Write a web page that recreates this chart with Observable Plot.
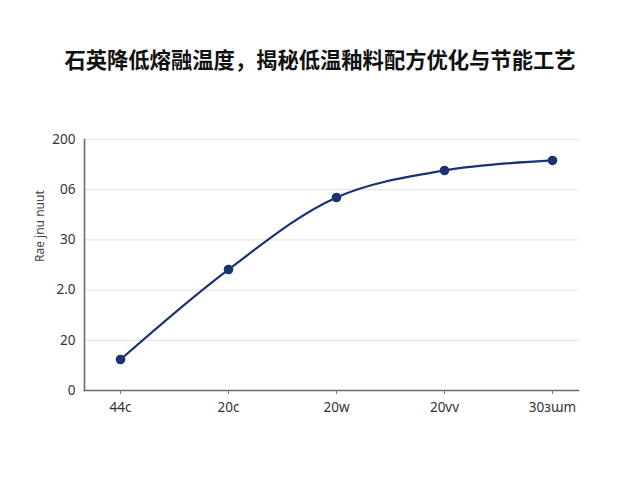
<!DOCTYPE html>
<html>
<head>
<meta charset="utf-8">
<script src="https://cdn.jsdelivr.net/npm/d3@7"></script>
<script src="https://cdn.jsdelivr.net/npm/@observablehq/plot@0.6"></script>
<style>
  body { margin: 0; background: #fff; width: 640px; height: 480px; overflow: hidden; font-family: "Noto Sans", "DejaVu Sans", sans-serif; }
  #title { position: absolute; left: 0; top: 43px; width: 640px; text-align: center; font-family: "Noto Sans CJK SC", sans-serif; font-weight: 700; font-size: 21.3px; color: #111; }
  #chart { position: absolute; left: 0; top: 120px; }
</style>
</head>
<body>
<div id="title">石英降低熔融温度，揭秘低温釉料配方优化与节能工艺</div>
<div id="chart"></div>
<script>
const categories = ["44c", "20c", "20w", "20vv", "30\u025C\u026Fm"];
const values = [24.7, 96.4, 153.8, 175.3, 183.3];
const yTicks = [0, 40, 80, 120, 160, 200];
const yTickLabels = ["0", "20", "2.0", "30", "06", "200"];
const yLabel = "Rae jnu nuut";

const data = categories.map((c, i) => ({cat: c, v: values[i]}));
const navy = "#1b3273";

const chart = Plot.plot({
  width: 640,
  height: 320,
  marginTop: 19,
  marginLeft: 84,
  marginRight: 62,
  marginBottom: 50,
  style: {fontFamily: "'Noto Sans', 'DejaVu Sans', sans-serif", fontSize: "13px", color: "#333", background: "#fff"},
  x: {type: "point", domain: categories, padding: 0, insetLeft: 35, insetRight: 26},
  y: {domain: [0, 200]},
  marks: [
    Plot.gridY(yTicks, {stroke: "#e2e2e2", strokeOpacity: 1}),
    Plot.axisY(yTicks, {tickSize: 0, tickPadding: 9, tickFormat: (d) => yTickLabels[yTicks.indexOf(d)], label: null, fontSize: 13.5}),
    Plot.text([yLabel], {frameAnchor: "left", dx: -44, rotate: -90, fontSize: 12, fill: "#444", dy: -3}),
    Plot.axisX({tickSize: 4, tickPadding: 8, label: null, stroke: "#777", fontSize: 13.5}),
    Plot.frame({anchor: "left", stroke: "#6b6b6b", strokeWidth: 1.6}),
    Plot.frame({anchor: "bottom", stroke: "#6b6b6b", strokeWidth: 1.6}),
    Plot.line(data, {x: "cat", y: "v", stroke: navy, strokeWidth: 2.2, curve: "catmull-rom"}),
    Plot.dot(data, {x: "cat", y: "v", fill: navy, r: 4.8})
  ]
});
document.getElementById("chart").appendChild(chart);
</script>
</body>
</html>
